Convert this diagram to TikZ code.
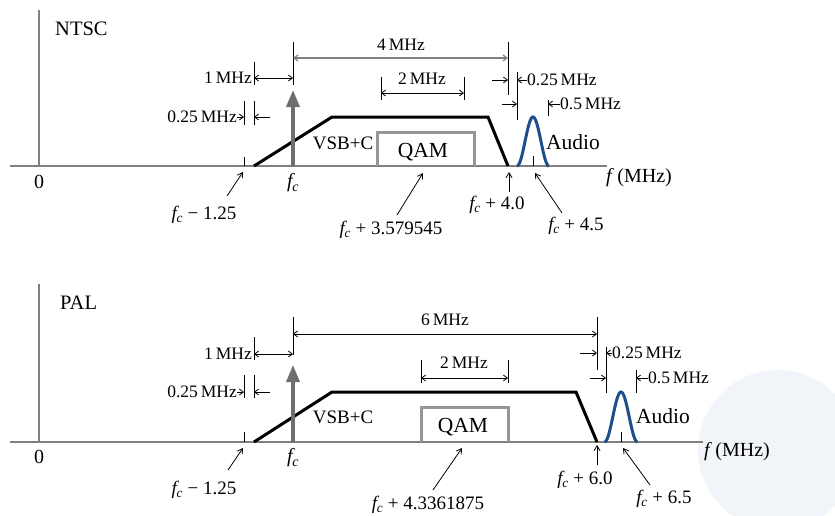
\documentclass[tikz,border=0pt]{standalone}
\usepackage{fontspec}
\setmainfont{Liberation Serif}
\usetikzlibrary{arrows.meta}
\definecolor{axisgray}{RGB}{128,128,128}
\definecolor{qamgray}{RGB}{150,150,150}
\definecolor{fcgray}{RGB}{110,110,110}
\definecolor{audioblue}{RGB}{31,78,140}
\definecolor{globecol}{RGB}{241,244,248}
\newcommand{\fcsym}{\textit{f}\kern-0.13em\textsubscript{\textit{c}}}
\begin{document}
\begin{tikzpicture}[x=1pt,y=-1pt,
  axis/.style={axisgray, line width=1.5pt},
  tick/.style={black, line width=0.9pt},
  dimline/.style={black, line width=0.8pt, {Straight Barb[length=4pt,width=6pt]}-{Straight Barb[length=4pt,width=6pt]}},
  dimarr/.style={black, line width=0.8pt, -{Straight Barb[length=4pt,width=6pt]}},
  ptr/.style={black, line width=0.8pt, -{Straight Barb[length=5pt,width=6pt]}},
  carrier/.style={fcgray, line width=3.5pt, -{Triangle[length=17pt,width=13pt]}},
  vsb/.style={black, line width=3pt},
  qam/.style={qamgray, line width=3pt},
  audio/.style={audioblue, line width=3pt},
  ttl/.style={font=\fontsize{20.5}{24}\selectfont, inner sep=0pt},
  dimlbl/.style={font=\fontsize{17.5}{20}\selectfont, inner sep=0pt},
  lbl/.style={font=\fontsize{19}{22}\selectfont, inner sep=0pt},
  big/.style={font=\fontsize{21.5}{24}\selectfont, inner sep=0pt},
  axlbl/.style={font=\fontsize{20}{24}\selectfont, inner sep=0pt}
]
\useasboundingbox (0,0) rectangle (835,515);
\begin{scope}
  \clip (0,0) rectangle (835,515);
  \fill[globecol] (778,450) circle (80);
\end{scope}

% ================= NTSC =================
\draw[axis] (39,10) coordinate (nYtop) -- (39,166) coordinate (nO);
\draw[axis] (10,166) coordinate (nXl) -- (607,166) coordinate (nXr);
\node[ttl, anchor=west] (nTitle) at (55,29) {NTSC};

\draw[qam] (377,166) -- (377,132) -- (474,132) -- (474,166);
\draw[vsb] (254,166) coordinate (nV1) -- (332,117) coordinate (nV2) -- (488,117) coordinate (nV3) -- (508,166) coordinate (nV4);
\draw[carrier] (293,166) coordinate (nFc) -- (293,90) coordinate (nFcTop);
\draw[audio] plot[domain=-16:16, samples=41, smooth] ({533+\x},{166-49*(1+cos(180*\x/16))/2});

% ticks
\draw[tick] (293,42) -- (293,85);
\draw[tick] (508,42) -- (508,95);
\draw[tick] (254,62) -- (254,85);
\draw[tick] (244,101) -- (244,125);
\draw[tick] (254,101) -- (254,125);
\draw[tick] (381,77) -- (381,100);
\draw[tick] (464,77) -- (464,100);
\draw[tick] (517,72) -- (517,120);
\draw[tick] (548,100) -- (548,116);
\draw[tick] (244,157) coordinate (nM1top) -- (244,166) coordinate (nM1);
\draw[tick] (533,156) coordinate (nAtop) -- (533,166) coordinate (nA);

% dimensions
\coordinate (n4a) at (293,58); \coordinate (n4b) at (508,58);
\draw[dimline, draw=axisgray, line width=1.2pt] (n4a) -- (n4b);
\node[dimlbl] (n4lbl) at (401,45) {4\,MHz};
\coordinate (n1a) at (254,78); \coordinate (n1b) at (293,78);
\draw[dimline] (n1a) -- (n1b);
\node[dimlbl, anchor=east] (n1lbl) at (252,78) {1\,MHz};
\coordinate (n2a) at (381,93); \coordinate (n2b) at (464,93);
\draw[dimline] (n2a) -- (n2b);
\node[dimlbl] (n2lbl) at (422,79) {2\,MHz};
\node[dimlbl, anchor=east] (nq1lbl) at (237,117) {0.25\,MHz};
\draw[dimarr] (nq1lbl.east) -- (244,117);
\draw[dimarr] (270,117) -- (254,117);
\draw[dimarr] (492,80) -- (508,80);
\node[dimlbl, anchor=west] (nq2lbl) at (527,80) {0.25\,MHz};
\draw[dimarr] (nq2lbl.west) -- (517,80);
\draw[dimarr] (502,104) -- (517,104);
\node[dimlbl, anchor=west] (nh1lbl) at (560,104) {0.5\,MHz};
\draw[dimarr] (nh1lbl.west) -- (548,104);

% labels
\node[lbl] (nVsb) at (343,143) {VSB+C};
\node[big] (nQam) at (423,152) {QAM};
\node[big, anchor=west] (nAud) at (546,142) {Audio};
\node[axlbl] (nZero) at (39,182) {0};
\node[axlbl] (nFcl) at (293,183) {\fcsym};
\node[axlbl, anchor=west] (nFax) at (606,178) {\textit{f}\,(MHz)};
\node[lbl] (nL1) at (204,215) {\fcsym\ − 1.25};
\node[lbl] (nL2) at (391,230) {\fcsym\ + 3.579545};
\node[lbl] (nL3) at (497,205) {\fcsym\ + 4.0};
\node[lbl] (nL4) at (576,226) {\fcsym\ + 4.5};
\coordinate (nP1) at (227,196); \coordinate (nP1e) at (243,172);
\coordinate (nP2) at (397,215); \coordinate (nP2e) at (423,173);
\coordinate (nP3) at (509,192); \coordinate (nP3e) at (509,172);
\coordinate (nP4) at (562,213); \coordinate (nP4e) at (535,173);
\draw[ptr] (nP1) -- (nP1e);
\draw[ptr] (nP2) -- (nP2e);
\draw[ptr] (nP3) -- (nP3e);
\draw[ptr] (nP4) -- (nP4e);

% ================= PAL =================
\draw[axis] (39,284) coordinate (pYtop) -- (39,442) coordinate (pO);
\draw[axis] (10,442) coordinate (pXl) -- (703,442) coordinate (pXr);
\node[ttl, anchor=west] (pTitle) at (60,303) {PAL};

\draw[qam] (421,442) -- (421,407) -- (508,407) -- (508,442);
\draw[vsb] (254,442) coordinate (pV1) -- (332,392) coordinate (pV2) -- (576,392) coordinate (pV3) -- (597,442) coordinate (pV4);
\draw[carrier] (293,442) coordinate (pFc) -- (293,365) coordinate (pFcTop);
\draw[audio] plot[domain=-16.5:16.5, samples=41, smooth] ({621+\x},{442-50*(1+cos(180*\x/16.5))/2});

% ticks
\draw[tick] (293,317) -- (293,355);
\draw[tick] (597,317) -- (597,370);
\draw[tick] (254,337) -- (254,360);
\draw[tick] (244,375) -- (244,398);
\draw[tick] (254,375) -- (254,398);
\draw[tick] (421,360) -- (421,383);
\draw[tick] (508,360) -- (508,383);
\draw[tick] (606,347) -- (606,393);
\draw[tick] (636,370) -- (636,393);
\draw[tick] (244,432) coordinate (pM1top) -- (244,442) coordinate (pM1);
\draw[tick] (621,432) coordinate (pAtop) -- (621,442) coordinate (pA);

% dimensions
\coordinate (p6a) at (293,334); \coordinate (p6b) at (597,334);
\draw[dimline] (p6a) -- (p6b);
\node[dimlbl] (p6lbl) at (445,320) {6\,MHz};
\coordinate (p1a) at (254,354); \coordinate (p1b) at (293,354);
\draw[dimline] (p1a) -- (p1b);
\node[dimlbl, anchor=east] (p1lbl) at (252,354) {1\,MHz};
\coordinate (p2a) at (421,378); \coordinate (p2b) at (508,378);
\draw[dimline] (p2a) -- (p2b);
\node[dimlbl] (p2lbl) at (464,363) {2\,MHz};
\node[dimlbl, anchor=east] (pq1lbl) at (237,392) {0.25\,MHz};
\draw[dimarr] (pq1lbl.east) -- (244,392);
\draw[dimarr] (270,392) -- (254,392);
\draw[dimarr] (580,353) -- (597,353);
\node[dimlbl, anchor=west] (pq2lbl) at (612,353) {0.25\,MHz};
\draw[dimarr] (pq2lbl.west) -- (606,353);
\draw[dimarr] (590,378) -- (606,378);
\node[dimlbl, anchor=west] (ph1lbl) at (648,378) {0.5\,MHz};
\draw[dimarr] (ph1lbl.west) -- (636,378);

% labels
\node[lbl] (pVsb) at (343,417) {VSB+C};
\node[big] (pQam) at (463,427) {QAM};
\node[big, anchor=west] (pAud) at (636,416) {Audio};
\node[axlbl] (pZero) at (39,457) {0};
\node[axlbl] (pFcl) at (293,458) {\fcsym};
\node[axlbl, anchor=west] (pFax) at (704,452) {\textit{f}\,(MHz)};
\node[lbl] (pL1) at (204,490) {\fcsym\ − 1.25};
\node[lbl] (pL2) at (428,505) {\fcsym\ + 4.3361875};
\node[lbl] (pL3) at (585,480) {\fcsym\ + 6.0};
\node[lbl] (pL4) at (664,499) {\fcsym\ + 6.5};
\coordinate (pP1) at (228,470); \coordinate (pP1e) at (243,448);
\coordinate (pP2) at (433,490); \coordinate (pP2e) at (462,448);
\coordinate (pP3) at (597,465); \coordinate (pP3e) at (597,445);
\coordinate (pP4) at (650,485); \coordinate (pP4e) at (623,448);
\draw[ptr] (pP1) -- (pP1e);
\draw[ptr] (pP2) -- (pP2e);
\draw[ptr] (pP3) -- (pP3e);
\draw[ptr] (pP4) -- (pP4e);
\end{tikzpicture}
\end{document}
